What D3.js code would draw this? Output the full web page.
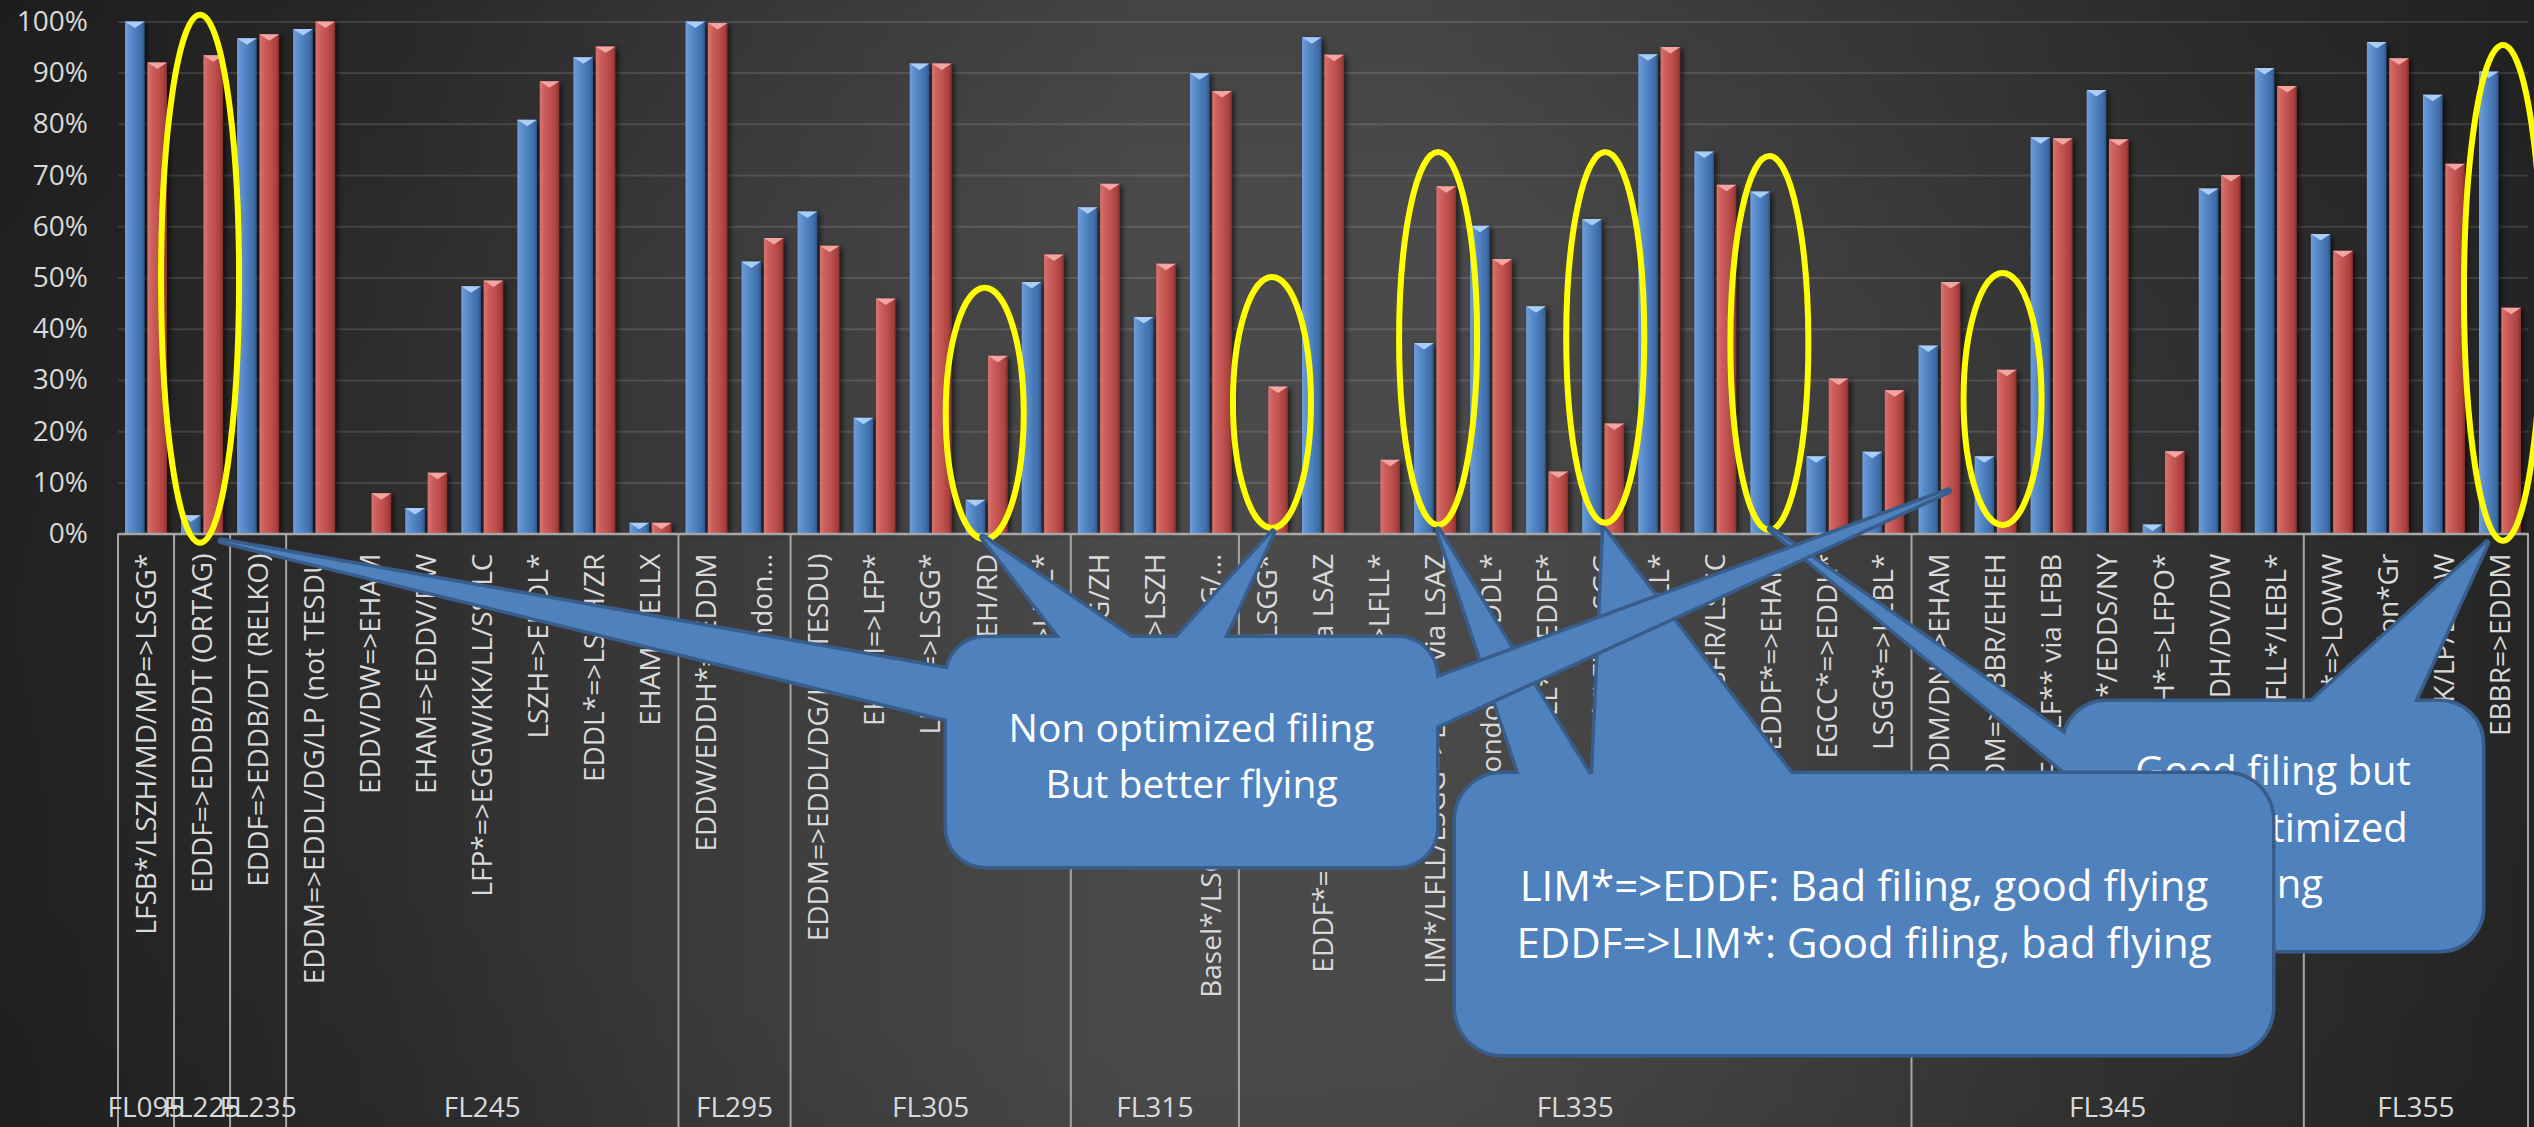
<!DOCTYPE html>
<html>
<head>
<meta charset="utf-8">
<script src="https://cdn.jsdelivr.net/npm/d3@7"></script>
<style>
  html, body { margin: 0; padding: 0; background: #333; overflow: hidden; }
  svg { display: block; }
  text { font-family: "Open Sans", "Noto Sans", sans-serif; }
</style>
</head>
<body>
<svg id="chart" width="2534" height="1127"></svg>
<script>
// Route pairs, grouped by cruise flight level
const categories = [
  "LFSB*/LSZH/MD/MP=>LSGG*",
  "EDDF=>EDDB/DT (ORTAG)",
  "EDDF=>EDDB/DT (RELKO)",
  "EDDM=>EDDL/DG/LP (not TESDU",
  "EDDV/DW=>EHAM",
  "EHAM=>EDDV/DW",
  "LFP*=>EGGW/KK/LL/SS/LC",
  "LSZH=>EDDL*",
  "EDDL*=>LSZH/ZR",
  "EHAM=>ELLX",
  "EDDW/EDDH*=>EDDM",
  "London...",
  "EDDM=>EDDL/DG/LP (TESDU)",
  "EHAM=>LFP*",
  "LEBL=>LSGG*",
  "EDDK=>EHAM/EH/RD",
  "LFMN=>LFLL*",
  "EBBR/EHAM=>LSGG/ZH",
  "EHAM=>LSZH",
  "Basel*/LSGG/ZH=>EDDF/DL/DG/...",
  "EDDL*=>LSGG*",
  "EDDF*=>LIPZ/LIPX/LIPE via LSAZ",
  "EDDF*=>LFLL*",
  "LIM*/LFLL/LSGG=>EDDF via LSAZ",
  "London*=>EDDL*",
  "LFLL*=>EDDF*",
  "EDDF=>LIM*/LFLL/LSGG",
  "EDDM=>LFLL*",
  "EHAM=>LSFIR/LSGC",
  "EDDF*=>EHAM",
  "EGCC*=>EDDL*",
  "LSGG*=>LEBL*",
  "EDDM/DN=>EHAM",
  "EDDM=>EBBR/EHEH",
  "EDDF=>LF** via LFBB",
  "LFP*=>EDDM*/EDDS/NY",
  "EDDH*=>LFPO*",
  "LFPG=>EDDH/DV/DW",
  "LFRS/LFOB=>LFLL*/LEBL*",
  "EDDF*=>LOWW",
  "EDDF=>London*Gr",
  "London*=>EGKK/LP/LL/LW",
  "EBBR=>EDDM"
];

const groupNames = ["FL095", "FL225", "FL235", "FL245", "FL295", "FL305", "FL315", "FL335", "FL345", "FL355"];
const groupSizes = [1, 1, 1, 7, 2, 5, 3, 12, 7, 4];

// Share of flights (%) — filed plan vs. actually flown
const filedPct = [100, 3.6, 96.7, 98.5, 0, 5.0, 48.3, 80.8, 93.0, 2.1,
                  100, 53.1, 62.9, 22.6, 91.8, 6.6, 49.1, 63.7, 42.3, 89.9,
                  0, 96.9, 0, 37.2, 60.1, 44.4, 61.4, 93.6, 74.6, 66.8,
                  15.1, 16.0, 36.7, 15.1, 77.4, 86.6, 1.8, 67.4, 90.9, 58.5,
                  96.0, 85.7, 90.2];
const flownPct = [92.0, 93.4, 97.5, 100, 7.9, 11.9, 49.4, 88.3, 95.1, 2.1,
                  99.7, 57.7, 56.2, 45.9, 91.8, 34.7, 54.5, 68.3, 52.7, 86.4,
                  28.7, 93.5, 14.4, 67.8, 53.6, 12.1, 21.5, 95.0, 68.1, 0,
                  30.3, 28.0, 49.1, 32.0, 77.2, 77.0, 16.1, 70.0, 87.4, 55.2,
                  92.8, 72.2, 44.1];

const yTickValues = [0, 10, 20, 30, 40, 50, 60, 70, 80, 90, 100];
const seriesKeys = ["filed", "flown"];

// Highlighted routes: category index, ellipse top/bottom (in % units), x nudge
const highlights = [
  { cat: 1,  top: 101.3, bottom: -1.8, dx: -2 },
  { cat: 15, top: 48.0,  bottom: -1.1, dx: -2 },
  { cat: 20, top: 50.1,  bottom: 1.1,  dx: 5 },
  { cat: 23, top: 74.5,  bottom: 1.7,  dx: 3 },
  { cat: 26, top: 74.5,  bottom: 2.1,  dx: 2 },
  { cat: 29, top: 73.7,  bottom: 0.7,  dx: -2 },
  { cat: 33, top: 50.9,  bottom: 1.7,  dx: 7 },
  { cat: 42, top: 95.4,  bottom: -1.4, dx: 3 }
];

// Callout boxes; each pointer aims at a highlight ellipse (apex offset from its bottom)
const callouts = [
  {
    box: [2064, 702, 2482, 950], r: 42, font: 40,
    lines: ["Good filing but", "non optimized", "flying"], baselines: [785, 842, 898],
    pointers: [
      { h: 5, dx: 1, dy: -1, base: [[2068, 737], [2068, 774]] },
      { h: 7, dx: -16, dy: 2, base: [[2307, 706], [2412, 706]] }
    ]
  },
  {
    box: [1456, 774, 2272, 1054], r: 46, font: 42,
    lines: ["LIM*=>EDDF: Bad filing, good flying", "EDDF=>LIM*: Good filing, bad flying"], baselines: [901, 958],
    pointers: [
      { h: 3, dx: 0, dy: 5, base: [[1521, 778], [1591, 778]] },
      { h: 4, dx: -1, dy: 7, base: [[1593, 778], [1794, 778]] }
    ]
  },
  {
    box: [947, 638, 1436, 866], r: 38, font: 39,
    lines: ["Non optimized filing", "But better flying"], baselines: [742, 798],
    pointers: [
      { h: 0, dx: 21, dy: -2, base: [[951, 670], [951, 720]] },
      { h: 1, dx: -2, dy: -2, base: [[1064, 642], [1137, 642]] },
      { h: 2, dx: 1, dy: 4, base: [[1173, 642], [1222, 642]] },
      { h: 6, dx: -54, dy: -34, base: [[1432, 680], [1432, 728]] }
    ]
  }
];

const W = 2534, H = 1127;
const plotLeft = 118, plotRight = 2528, yZero = 533.6, yTop = 21.4;

const svg = d3.select("#chart");
const defs = svg.append("defs");

// Background: soft horizontal light falloff
const bg = defs.append("linearGradient").attr("id", "bg").attr("x1", 0).attr("x2", 1).attr("y1", 0).attr("y2", 0);
[[0, "#232323"], [0.15, "#2d2d2d"], [0.3, "#3d3d3d"], [0.45, "#4a4a4a"], [0.56, "#4a4a4a"],
 [0.7, "#404040"], [0.85, "#333333"], [1, "#282828"]].forEach(([o, c]) =>
  bg.append("stop").attr("offset", o).attr("stop-color", c));

const vign = defs.append("radialGradient").attr("id", "vign")
  .attr("cx", 0.47).attr("cy", 0.55).attr("r", 0.75);
vign.append("stop").attr("offset", 0.5).attr("stop-color", "#000").attr("stop-opacity", 0);
vign.append("stop").attr("offset", 1).attr("stop-color", "#000").attr("stop-opacity", 0.18);

// Cylinder-like shading for the bars
function barGradient(id, stops) {
  const g = defs.append("linearGradient").attr("id", id).attr("x1", 0).attr("x2", 1).attr("y1", 0).attr("y2", 0);
  stops.forEach(([o, c]) => g.append("stop").attr("offset", o).attr("stop-color", c));
}
barGradient("g-filed", [[0, "#6f9fdb"], [0.2, "#5f90d0"], [0.55, "#4c7dbb"], [0.85, "#3e6ca6"], [1, "#2e5486"]]);
barGradient("g-flown", [[0, "#d97471"], [0.2, "#cf625e"], [0.55, "#c0504d"], [0.85, "#a8413e"], [1, "#85302e"]]);
const capColor = { filed: "#a9cdf6", flown: "#f1a6a3" };

const shadow = defs.append("filter").attr("id", "shadow").attr("x", "-50%").attr("y", "-5%").attr("width", "200%").attr("height", "110%");
shadow.append("feGaussianBlur").attr("stdDeviation", 2.5);

svg.append("rect").attr("width", W).attr("height", H).attr("fill", "url(#bg)");
svg.append("rect").attr("width", W).attr("height", H).attr("fill", "url(#vign)");

// Scales
const x0 = d3.scaleBand().domain(d3.range(categories.length)).range([plotLeft, plotRight]).paddingInner(0).paddingOuter(0);
const bw = x0.bandwidth();
const x1 = d3.scaleBand().domain(seriesKeys).range([bw * 0.125, bw * 0.875]).paddingInner(0.12);
const y = d3.scaleLinear().domain([0, 100]).range([yZero, yTop]);

// Value axis with gridlines
const yAxis = svg.append("g").attr("transform", `translate(${plotLeft},0)`)
  .call(d3.axisLeft(y).tickValues(yTickValues).tickFormat(d => d + "%")
    .tickSize(-(plotRight - plotLeft)).tickPadding(30));
yAxis.select(".domain").remove();
yAxis.selectAll(".tick line").attr("stroke", "#ffffff").attr("stroke-opacity", d => d === 0 ? 0 : 0.12).attr("stroke-width", 2);
yAxis.selectAll(".tick text").attr("fill", "#d9d9d9").attr("font-size", 28).attr("font-family", "'Open Sans', sans-serif");

// Bars
const rows = categories.map((c, i) => ({ i, filed: filedPct[i], flown: flownPct[i] }));
const barData = rows.flatMap(r => seriesKeys.map(k => ({ i: r.i, key: k, v: r[k] }))).filter(d => d.v > 0);

const shadows = svg.append("g").attr("filter", "url(#shadow)").attr("opacity", 0.55);
shadows.selectAll("rect").data(barData).join("rect")
  .attr("x", d => x0(d.i) + x1(d.key) + 3)
  .attr("y", d => y(d.v) + 2)
  .attr("width", x1.bandwidth())
  .attr("height", d => yZero - y(d.v) - 2)
  .attr("fill", "#000");

const bars = svg.append("g");
bars.selectAll("rect").data(barData).join("rect")
  .attr("x", d => x0(d.i) + x1(d.key))
  .attr("y", d => y(d.v))
  .attr("width", x1.bandwidth())
  .attr("height", d => yZero - y(d.v))
  .attr("fill", d => `url(#g-${d.key})`);
bars.selectAll("polygon").data(barData).join("polygon")
  .attr("points", d => {
    const xa = x0(d.i) + x1(d.key), xb = xa + x1.bandwidth(), t = y(d.v);
    return `${xa},${t} ${xb},${t} ${(xa + xb) / 2},${t + 6.5}`;
  })
  .attr("fill", d => capColor[d.key]);

// Category axis
const xAxis = svg.append("g").attr("transform", `translate(0,${yZero})`)
  .call(d3.axisBottom(x0).tickFormat(i => categories[i]).tickSize(0).tickSizeOuter(0));
xAxis.select(".domain").attr("stroke", "#a6a6a6").attr("stroke-width", 2.5);
xAxis.selectAll(".tick text")
  .attr("transform", "rotate(-90)")
  .attr("text-anchor", "end")
  .attr("x", -20).attr("y", 0).attr("dy", "0.35em")
  .attr("fill", "#d9d9d9").attr("font-size", 28).attr("font-family", "'Open Sans', sans-serif");

// Flight-level groups
const bounds = [0, ...d3.cumsum(groupSizes)];
const groupG = svg.append("g");
groupG.selectAll("line").data(bounds).join("line")
  .attr("x1", b => b < categories.length ? x0(b) : plotRight)
  .attr("x2", b => b < categories.length ? x0(b) : plotRight)
  .attr("y1", yZero).attr("y2", H)
  .attr("stroke", "#a6a6a6").attr("stroke-width", 2);
groupG.selectAll("text").data(groupNames).join("text")
  .attr("x", (g, k) => {
    const a = x0(bounds[k]);
    const b = bounds[k + 1] < categories.length ? x0(bounds[k + 1]) : plotRight;
    return (a + b) / 2;
  })
  .attr("y", 1117)
  .attr("text-anchor", "middle")
  .attr("fill", "#d9d9d9").attr("font-size", 28)
  .text(g => g);

// Highlight ellipses
const hx = h => x0(h.cat) + bw / 2 + h.dx;
svg.append("g").selectAll("ellipse").data(highlights).join("ellipse")
  .attr("cx", hx)
  .attr("cy", h => (y(h.top) + y(h.bottom)) / 2)
  .attr("rx", 39)
  .attr("ry", h => (y(h.bottom) - y(h.top)) / 2)
  .attr("fill", "none").attr("stroke", "#ffff00").attr("stroke-width", 6);

// Callouts: outline pass then fill pass, so box and pointers read as one shape
const calloutFill = "#4f81bd", calloutEdge = "#385d8a";
callouts.forEach(c => {
  const g = svg.append("g");
  const [bx0, by0, bx1, by1] = c.box;
  const pts = c.pointers.map(p => {
    const h = highlights[p.h];
    const apex = [hx(h) + p.dx, y(h.bottom) + p.dy];
    return [apex, p.base[1], p.base[0]];
  });
  const drawShapes = (fill, stroke, sw) => {
    g.append("rect").attr("x", bx0).attr("y", by0).attr("width", bx1 - bx0).attr("height", by1 - by0)
      .attr("rx", c.r).attr("fill", fill).attr("stroke", stroke).attr("stroke-width", sw);
    pts.forEach(p => g.append("polygon").attr("points", p.map(q => q.join(",")).join(" "))
      .attr("fill", fill).attr("stroke", stroke).attr("stroke-width", sw).attr("stroke-linejoin", "round"));
  };
  drawShapes(calloutEdge, calloutEdge, 7);
  drawShapes(calloutFill, "none", 0);
  const cx = (bx0 + bx1) / 2;
  c.lines.forEach((t, k) => g.append("text")
    .attr("x", cx).attr("y", c.baselines[k])
    .attr("text-anchor", "middle").attr("fill", "#ffffff").attr("font-size", c.font)
    .text(t));
});
</script>
</body>
</html>
